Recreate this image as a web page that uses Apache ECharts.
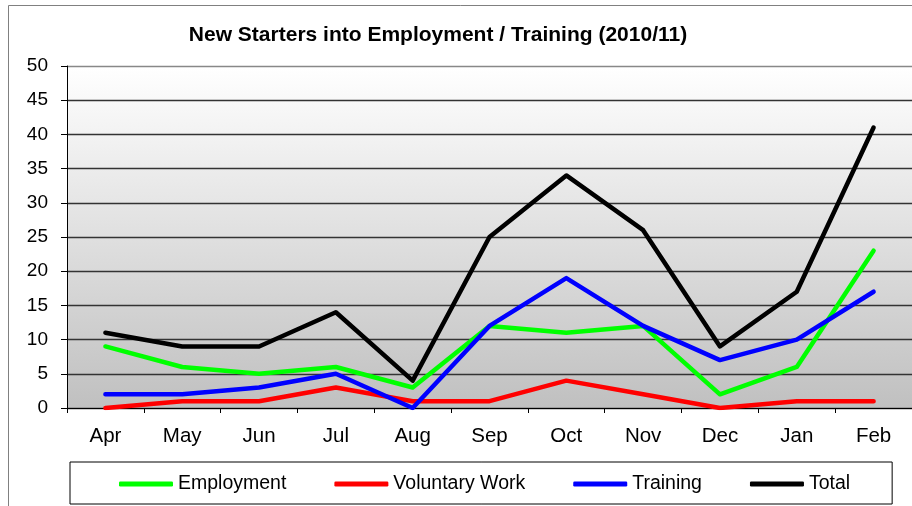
<!DOCTYPE html>
<html>
<head>
<meta charset="utf-8">
<script src="https://cdn.jsdelivr.net/npm/echarts@6/dist/echarts.min.js"></script>
<style>
html,body{margin:0;padding:0;background:#fff;}
#chart{width:912px;height:506px;}
</style>
</head>
<body>
<div id="chart"></div>
<script>
const categories = ['Apr','May','Jun','Jul','Aug','Sep','Oct','Nov','Dec','Jan','Feb'];
const employment = [9,6,5,6,3,12,11,12,2,6,23];
const voluntaryWork = [0,1,1,3,1,1,4,2,0,1,1];
const training = [2,2,3,5,0,12,19,12,7,10,17];
const total = [11,9,9,14,4,25,34,26,9,17,41];
const yTicks = [0,5,10,15,20,25,30,35,40,45,50];

const seriesDefs = [
  {name:'Employment', data:employment, color:'#00ff00'},
  {name:'Voluntary Work', data:voluntaryWork, color:'#ff0000'},
  {name:'Training', data:training, color:'#0000ff'},
  {name:'Total', data:total, color:'#000000'}
];

const chart = echarts.init(document.getElementById('chart'), null, {renderer:'canvas'});
const font = 'Arial, "Liberation Sans", sans-serif';
const gridColors = yTicks.map((v,i)=> i===yTicks.length-1 ? '#888888' : '#333333');

chart.setOption({
  animation:false,
  backgroundColor:'#ffffff',
  title:{
    text:'New Starters into Employment / Training (2010/11)',
    left:433, top:20, textAlign:'center',
    textStyle:{fontFamily:font, fontSize:21, fontWeight:'bold', color:'#000'}
  },
  graphic:[
    {type:'rect', shape:{x:8.5, y:5.5, width:1000, height:1000}, style:{fill:'none', stroke:'#808080', lineWidth:1}, z:-1}
  ],
  legend:{
    left:70, top:462,
    padding:[12,42,10,49],
    borderColor:'#000', borderWidth:1,
    itemWidth:54, itemHeight:5, itemGap:48,
    icon:'roundRect',
    textStyle:{fontFamily:font, fontSize:19.5, color:'#000'},
    data:seriesDefs.map(s=>({name:s.name, icon:'roundRect'}))
  },
  grid:{
    left:67, top:66, width:851, height:342,
    show:true, borderWidth:0,
    backgroundColor:new echarts.graphic.LinearGradient(0,0,0,1,[
      {offset:0, color:'#ffffff'},
      {offset:1, color:'#c0c0c0'}
    ])
  },
  xAxis:{
    type:'category', data:categories, boundaryGap:true,
    axisLine:{show:true, lineStyle:{color:'#000', width:1}},
    axisTick:{show:true, alignWithLabel:false, length:5, lineStyle:{color:'#000'}},
    axisLabel:{fontFamily:font, fontSize:20.5, color:'#000', margin:18},
    splitLine:{show:false}
  },
  yAxis:{
    type:'value', min:0, max:50, interval:5,
    axisLine:{show:true, lineStyle:{color:'#000', width:1}},
    axisTick:{show:true, length:6, lineStyle:{color:'#000'}},
    axisLabel:{fontFamily:font, fontSize:19, color:'#000', margin:19},
    splitLine:{show:true, lineStyle:{color:gridColors, width:1.4}}
  },
  series:seriesDefs.map(s=>({
    name:s.name, type:'line', data:s.data,
    symbol:'none', showSymbol:false,
    color:s.color,
    lineStyle:{color:s.color, width:4.5, cap:'round', join:'round'},
    itemStyle:{color:s.color}
  }))
});
</script>
</body>
</html>
